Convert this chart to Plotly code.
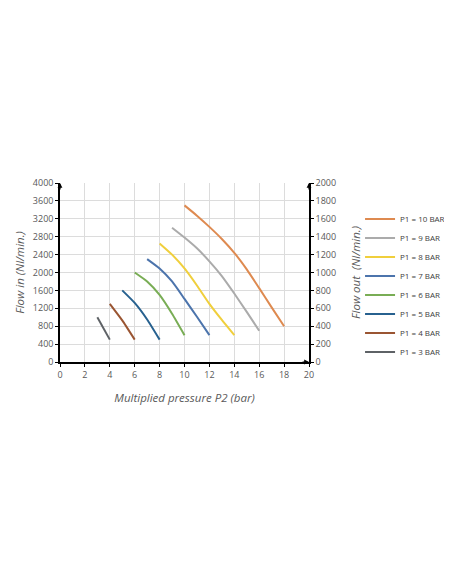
import plotly.graph_objects as go

# Multiplied pressure P2 (bar) / flow in (Nl/min.) per P1 curve
series_names = ['P1 = 10 BAR', 'P1 = 9 BAR', 'P1 = 8 BAR', 'P1 = 7 BAR',
                'P1 = 6 BAR', 'P1 = 5 BAR', 'P1 = 4 BAR', 'P1 = 3 BAR']

p1_10_x = [10, 11, 12, 13, 14, 15, 16, 17, 18]
p1_10_y = [3500, 3270, 3020, 2750, 2440, 2070, 1650, 1220, 800]
p1_9_x = [9, 10, 11, 12, 13, 14, 15, 16]
p1_9_y = [3000, 2780, 2540, 2250, 1920, 1530, 1120, 700]
p1_8_x = [8, 9, 10, 11, 12, 13, 14]
p1_8_y = [2650, 2400, 2090, 1710, 1300, 940, 600]
p1_7_x = [7, 8, 9, 10, 11, 12]
p1_7_y = [2300, 2090, 1800, 1410, 1010, 600]
p1_6_x = [6, 7, 8, 9, 10]
p1_6_y = [2000, 1800, 1500, 1080, 600]
p1_5_x = [5, 6, 7, 8]
p1_5_y = [1600, 1320, 950, 500]
p1_4_x = [4, 5, 6]
p1_4_y = [1300, 930, 500]
p1_3_x = [3, 4]
p1_3_y = [1000, 500]

x_ticks = list(range(0, 21, 2))
left_ticks = list(range(0, 4001, 400))
right_ticks = list(range(0, 2001, 200))

colors = ['#DE8A50', '#ABABAB', '#F0CF3C', '#4C74AC',
          '#79AD55', '#27618F', '#9A5532', '#5E6266']

xs = [p1_10_x, p1_9_x, p1_8_x, p1_7_x, p1_6_x, p1_5_x, p1_4_x, p1_3_x]
ys = [p1_10_y, p1_9_y, p1_8_y, p1_7_y, p1_6_y, p1_5_y, p1_4_y, p1_3_y]

fig = go.Figure()
for name, x, y, color in zip(series_names, xs, ys, colors):
    fig.add_trace(go.Scatter(
        x=x, y=y, mode='lines', name=name,
        line=dict(color=color, width=2, shape='spline', smoothing=0.5),
    ))

# invisible trace so the right axis is drawn
fig.add_trace(go.Scatter(x=[0], y=[0], yaxis='y2', mode='lines',
                         showlegend=False, hoverinfo='skip', opacity=0))

tick_font = dict(family='Open Sans', size=9, color='#595959')
title_font = dict(family='Open Sans', size=11.5, color='#595959', style='italic')

# page body has an 8px margin, so the figure is a bit smaller than the window
fig.update_layout(
    width=444,
    height=576,
    margin=dict(l=52, r=143, t=175, b=222, autoexpand=False),
    paper_bgcolor='white',
    plot_bgcolor='white',
    showlegend=True,
    legend=dict(
        x=1.205, y=0.88, xanchor='left', yanchor='top',
        font=dict(family='Open Sans', size=8, color='#404040'),
        tracegroupgap=0, itemwidth=30, bgcolor='rgba(0,0,0,0)',
    ),
    xaxis=dict(
        range=[0, 20], tickvals=x_ticks, showgrid=True, gridcolor='#DCDCDC',
        gridwidth=1, showline=True, linecolor='black', linewidth=1.5,
        ticks='outside', ticklen=3, tickcolor='black', tickfont=tick_font,
        zeroline=False, automargin=False,
        title=dict(text='Multiplied pressure P2 (bar)', font=title_font, standoff=14),
    ),
    yaxis=dict(
        range=[0, 4000], tickvals=left_ticks, showgrid=True, gridcolor='#DCDCDC',
        gridwidth=1, showline=True, linecolor='black', linewidth=1.5,
        ticks='outside', ticklen=3, tickcolor='black', tickfont=tick_font,
        zeroline=False, automargin=False,
        title=dict(text='Flow in (Nl/min.)', font=title_font, standoff=6),
    ),
    yaxis2=dict(
        range=[0, 2000], tickvals=right_ticks, overlaying='y', side='right',
        showgrid=False, showline=True, linecolor='black', linewidth=1.5,
        ticks='outside', ticklen=3, tickcolor='black', tickfont=tick_font,
        zeroline=False, automargin=False,
        title=dict(text='Flow out  (Nl/min.)', font=title_font, standoff=17),
    ),
)

# arrow heads at the axis ends
for ax_x, ax_y, dx, dy, yref in [(0, 4000, 0, 8, 'y'), (20, 0, -8, 0, 'y'), (20, 2000, 0, 8, 'y2')]:
    fig.add_annotation(x=ax_x, y=ax_y, xref='x', yref=yref, ax=dx, ay=dy,
                       showarrow=True, arrowhead=2, arrowsize=0.8, arrowwidth=1.2,
                       arrowcolor='black', text='')

fig.write_html('out.html')
